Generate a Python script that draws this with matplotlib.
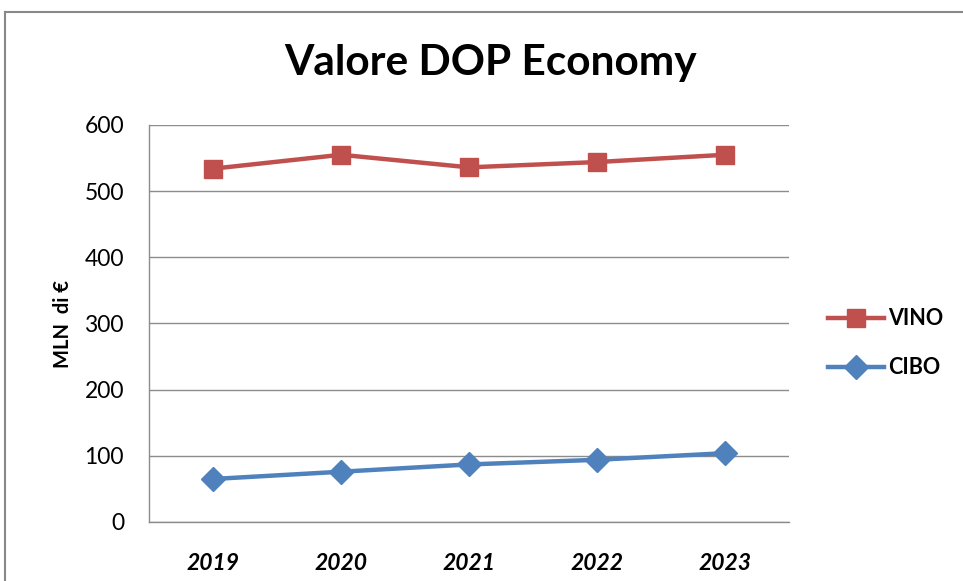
import matplotlib
matplotlib.use("Agg")
import matplotlib.pyplot as plt
from matplotlib.lines import Line2D

years = ["2019", "2020", "2021", "2022", "2023"]
vino = [534, 555, 536, 544, 555]
cibo = [65, 76, 87, 94, 104]
yticks = [0, 100, 200, 300, 400, 500, 600]

plt.rcParams['font.family'] = ['Lato', 'DejaVu Sans']

W, H = 963, 581
fig = plt.figure(figsize=(W/100, H/100), dpi=100)
ax = fig.add_axes([149/W, (H-522)/H, 640/W, 397/H])

x = list(range(len(years)))
ax.plot(x, vino, color='#C0504D', lw=3.2, marker='s', ms=13, label='VINO', zorder=3)
ax.plot(x, cibo, color='#4F81BD', lw=3.2, marker='D', ms=12, label='CIBO', zorder=3)

ax.set_xlim(-0.5, len(years)-0.5)
ax.set_ylim(0, 600)
ax.set_yticks(yticks)
ax.set_yticklabels([str(v) for v in yticks], fontsize=16.5)
ax.set_xticks(x)
ax.set_xticklabels(years, fontsize=16.5, fontweight='bold', fontstyle='italic')
ax.tick_params(axis='y', length=0, pad=18)
ax.tick_params(axis='x', length=0, pad=22)
ax.yaxis.grid(True, color='#8c8c8c', lw=1)
ax.set_axisbelow(True)
for s in ['top', 'right']:
    ax.spines[s].set_visible(False)
for s in ['left', 'bottom']:
    ax.spines[s].set_color('#8c8c8c')
    ax.spines[s].set_linewidth(1)

ax.set_ylabel('MLN  di €', fontsize=14.5, fontweight='bold', labelpad=8)

fig.text(491/W, 1-63/H, 'Valore DOP Economy', ha='center', va='center',
         fontsize=30.5, fontweight='bold')

leg = ax.legend(loc='center left', bbox_to_anchor=(1.03, 0.45), frameon=False,
                prop={'weight': 'bold', 'size': 15.5},
                handlelength=2.6, labelspacing=1.3, handletextpad=0.2)

# outer chart border (left and top)
fig.add_artist(Line2D([5/W, 5/W], [0, 1-12/H], color='#888888', lw=1.5, transform=fig.transFigure))
fig.add_artist(Line2D([5/W, 1], [1-12/H, 1-12/H], color='#888888', lw=1.5, transform=fig.transFigure))

fig.savefig('out.png', dpi=100)
